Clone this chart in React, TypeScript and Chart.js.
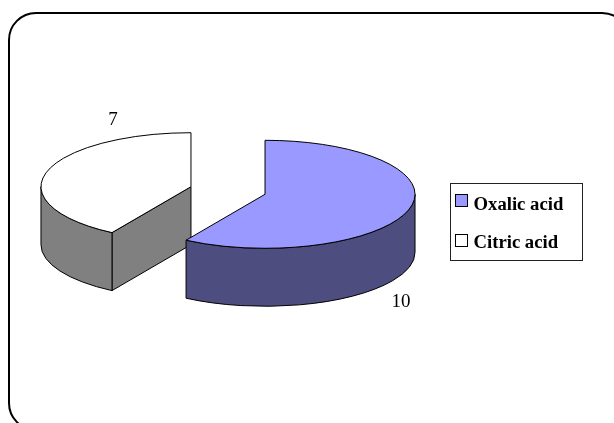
import React, { useEffect, useRef } from "react";
import { Chart, registerables } from "chart.js";

Chart.register(...registerables);

const categories = ["Oxalic acid", "Citric acid"];
const values = [10, 7];
const topColors = ["#9999FF", "#FFFFFF"];
const sideColors = ["#4D4D80", "#808080"];

const WIDTH = 614;
const HEIGHT = 423;
const SERIF = '"Liberation Serif", "Times New Roman", serif';
const PIE_X = 228;
const PIE_Y = 190.5;
const SQUASH = 0.36;
const DEPTH = 58;
const RADIUS = 150;
const EXPLODE = 38.5;
const LABEL_OFFSETS = [
  [136, 107.5],
  [-78, -67],
];
const LEGEND_SWATCH_Y = [194.5, 234.5];
const LEGEND_BASELINE_Y = [210, 247.5];

function arcGeometry(arc: any) {
  const mid = (arc.startAngle + arc.endAngle) / 2;
  return {
    dx: Math.cos(mid) * EXPLODE,
    dy: Math.sin(mid) * EXPLODE,
    cx: PIE_X + Math.cos(mid) * EXPLODE,
    cy: PIE_Y + Math.sin(mid) * EXPLODE * SQUASH,
    rx: arc.outerRadius,
    ry: arc.outerRadius * SQUASH,
    start: arc.startAngle,
    end: arc.endAngle,
  };
}

const pie3d = {
  id: "pie3d",
  beforeDraw(chart: any) {
    const ctx = chart.ctx;
    ctx.save();
    ctx.fillStyle = "#FFFFFF";
    ctx.fillRect(0, 0, WIDTH, HEIGHT);
    ctx.strokeStyle = "#000000";
    ctx.lineWidth = 2;
    ctx.beginPath();
    ctx.roundRect(9, 13, 620, 417, 27);
    ctx.stroke();
    ctx.restore();
  },
  beforeDatasetsDraw(chart: any) {
    const ctx = chart.ctx;
    const arcs = chart.getDatasetMeta(0).data;

    // walls, far slice first
    ctx.save();
    ctx.strokeStyle = "#000000";
    ctx.lineWidth = 1;
    ctx.lineJoin = "round";
    for (let i = arcs.length - 1; i >= 0; i--) {
      const g = arcGeometry(arcs[i]);
      const pt = (a: number) => [g.cx + Math.cos(a) * g.rx, g.cy + Math.sin(a) * g.ry];
      ctx.fillStyle = sideColors[i];
      [g.start, g.end].forEach((a, k) => {
        const normal = k === 0 ? a - Math.PI / 2 : a + Math.PI / 2;
        if (Math.sin(normal) > 0.01) {
          const [px, py] = pt(a);
          ctx.beginPath();
          ctx.moveTo(g.cx, g.cy);
          ctx.lineTo(px, py);
          ctx.lineTo(px, py + DEPTH);
          ctx.lineTo(g.cx, g.cy + DEPTH);
          ctx.closePath();
          ctx.fill();
          ctx.stroke();
        }
      });
      const a0 = Math.max(g.start, 0);
      const a1 = Math.min(g.end, Math.PI);
      if (a1 > a0) {
        ctx.beginPath();
        ctx.ellipse(g.cx, g.cy, g.rx, g.ry, 0, a0, a1);
        ctx.ellipse(g.cx, g.cy + DEPTH, g.rx, g.ry, 0, a1, a0, true);
        ctx.closePath();
        ctx.fill();
        ctx.stroke();
      }
    }
    ctx.restore();

    // top faces: the library's own arc elements, laid into the tilted plane
    const cx0 = (chart.chartArea.left + chart.chartArea.right) / 2;
    const cy0 = (chart.chartArea.top + chart.chartArea.bottom) / 2;
    arcs.forEach((arc: any) => {
      const g = arcGeometry(arc);
      ctx.save();
      ctx.translate(PIE_X, PIE_Y);
      ctx.scale(1, SQUASH);
      ctx.translate(g.dx - cx0, g.dy - cy0);
      arc.draw(ctx);
      ctx.restore();
    });

    // outlines and value labels
    ctx.save();
    ctx.strokeStyle = "#000000";
    ctx.lineWidth = 1;
    ctx.lineJoin = "round";
    arcs.forEach((arc: any, i: number) => {
      const g = arcGeometry(arc);
      ctx.beginPath();
      ctx.moveTo(g.cx, g.cy);
      ctx.ellipse(g.cx, g.cy, g.rx, g.ry, 0, g.start, g.end);
      ctx.closePath();
      ctx.stroke();
      ctx.fillStyle = "#000000";
      ctx.font = `19px ${SERIF}`;
      ctx.textAlign = "center";
      ctx.textBaseline = "middle";
      ctx.fillText(String(values[i]), g.cx + LABEL_OFFSETS[i][0], g.cy + LABEL_OFFSETS[i][1]);
    });
    ctx.restore();

    // legend
    ctx.save();
    ctx.strokeStyle = "#222222";
    ctx.lineWidth = 1;
    ctx.strokeRect(450.5, 183.5, 132, 77);
    categories.forEach((name, i) => {
      ctx.fillStyle = topColors[i];
      ctx.strokeStyle = "#000000";
      ctx.fillRect(455.5, LEGEND_SWATCH_Y[i], 12, 12);
      ctx.strokeRect(455.5, LEGEND_SWATCH_Y[i], 12, 12);
      ctx.fillStyle = "#000000";
      ctx.font = `bold 18.7px ${SERIF}`;
      ctx.textAlign = "left";
      ctx.textBaseline = "alphabetic";
      ctx.fillText(name, 473.5, LEGEND_BASELINE_Y[i]);
    });
    ctx.restore();
    return false;
  },
};

export default function App() {
  const ref = useRef<HTMLCanvasElement>(null);
  useEffect(() => {
    document.body.style.margin = "0";
    const chart = new Chart(ref.current as HTMLCanvasElement, {
      type: "pie",
      data: {
        labels: categories,
        datasets: [
          {
            data: values,
            backgroundColor: topColors,
            borderWidth: 0,
          },
        ],
      },
      options: {
        responsive: false,
        animation: false,
        radius: RADIUS,
        layout: { padding: 0 },
        plugins: { legend: { display: false }, tooltip: { enabled: false } },
        events: [],
      } as any,
      plugins: [pie3d],
    });
    return () => chart.destroy();
  }, []);
  return <canvas ref={ref} width={WIDTH} height={HEIGHT} style={{ display: "block" }} />;
}
